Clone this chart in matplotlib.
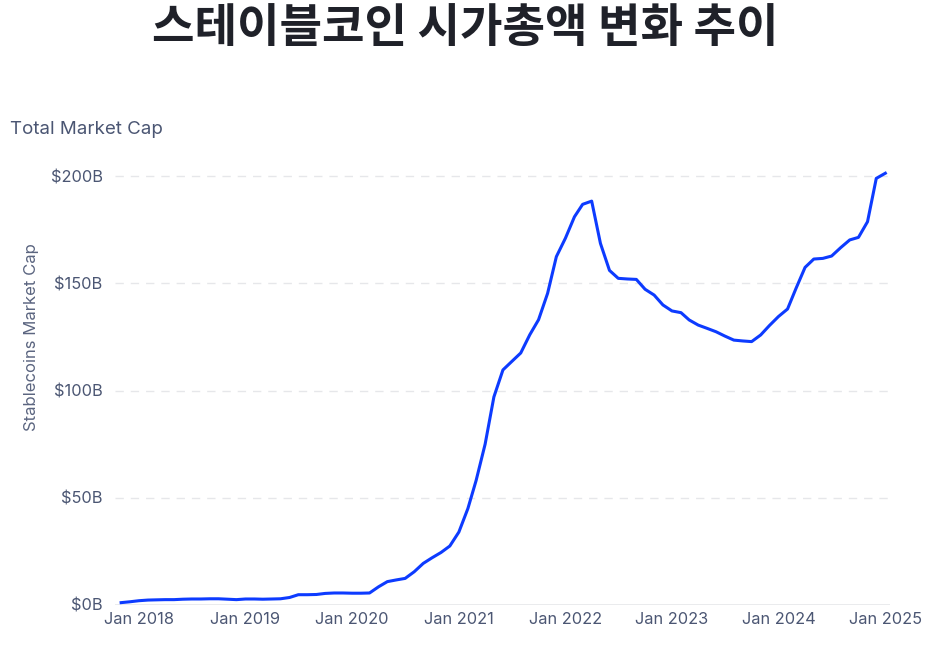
import numpy as np
import pandas as pd
import matplotlib
matplotlib.use("Agg")
from matplotlib import pyplot as plt
import matplotlib.dates as mdates
from matplotlib.ticker import FuncFormatter

plt.rcParams['font.family'] = ['Inter', 'DejaVu Sans']

# monthly stablecoin market cap, billions USD (Nov 2017 .. Jan 2025)
months = pd.date_range("2017-11-01", "2025-01-01", freq="MS")
market_cap = [
    1.1, 1.5,
    2.0, 2.3, 2.4, 2.5, 2.5, 2.7, 2.8, 2.8, 2.9, 2.9, 2.7, 2.5,
    2.8, 2.8, 2.7, 2.8, 2.9, 3.5, 4.8, 4.8, 4.9, 5.4, 5.6, 5.6,
    5.5, 5.5, 5.6, 8.5, 10.9, 11.7, 12.4, 15.5, 19.4, 22.0, 24.5, 27.5,
    34.0, 45.0, 58.0, 75.0, 97.0, 109.6, 113.5, 117.5, 126.0, 133.0, 145.3, 162.4,
    171.0, 181.0, 186.8, 188.3, 168.6, 156.0, 152.3, 152.0, 151.8, 147.2, 144.5, 139.9,
    137.1, 136.3, 132.9, 130.5, 129.0, 127.4, 125.4, 123.5, 123.1, 122.8, 125.9, 130.3,
    134.5, 138.0, 147.6, 157.4, 161.3, 161.6, 162.7, 166.6, 170.2, 171.4, 178.7, 198.9,
    201.3,
]
y_ticks = [0, 50, 100, 150, 200]
x_ticks = pd.date_range("2018-01-01", "2025-01-01", freq="YS")

title = "스테이블코인 시가총액 변화 추이"
subtitle = "Total Market Cap"
y_label = "Stablecoins Market Cap"

W, H = 930, 647
fig = plt.figure(figsize=(W / 100, H / 100), dpi=100)
ax = fig.add_axes([115 / W, 1 - 605 / H, 775 / W, (605 - 165.3) / H])

ax.plot(months, market_cap, color="#0d3bff", lw=2.2, solid_joinstyle="round")

ax.set_ylim(0, 205)
ax.set_xlim(pd.Timestamp("2017-10-11"), pd.Timestamp("2025-01-17"))
ax.set_yticks(y_ticks)
ax.set_xticks(x_ticks)
ax.yaxis.set_major_formatter(FuncFormatter(lambda v, p: f"${v:.0f}B"))
ax.xaxis.set_major_formatter(mdates.DateFormatter("Jan %Y"))

for v in y_ticks[1:]:
    ax.axhline(v, color="#e6e7ea", lw=1.0, ls=(0, (6, 5)), zorder=0)
ax.axhline(0, color="#e6e7ea", lw=1.2, zorder=0)

for s in ax.spines.values():
    s.set_visible(False)
ax.tick_params(length=0, labelsize=11.8, labelcolor="#4b5673")
ax.tick_params(axis="y", pad=9)
ax.tick_params(axis="x", pad=5)

ax.set_ylabel(y_label, fontsize=12, color="#5b6580")
ax.yaxis.set_label_coords(-76 / 775, 0.61)

fig.text(10 / W, 1 - 130 / H, subtitle, fontsize=13.5, color="#4b5673",
         va="center", ha="left")
fig.text(465 / W, 1 - 28 / H, title, fontsize=33.3, fontweight="bold",
         color="#1f2129", ha="center", va="center",
         family=["Noto Sans CJK KR", "DejaVu Sans"])

fig.savefig("out.png", dpi=100)
